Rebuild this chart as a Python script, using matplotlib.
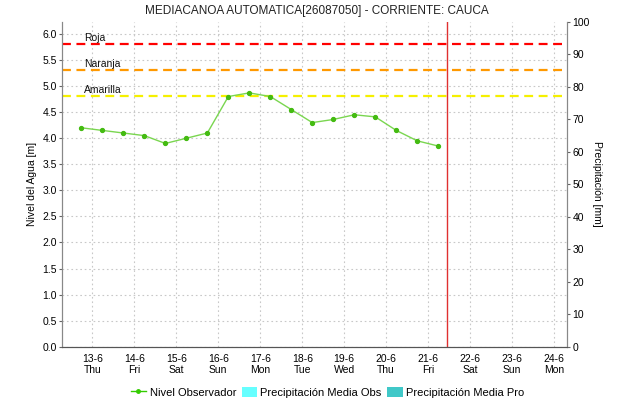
import numpy as np
import matplotlib
matplotlib.use("Agg")
import matplotlib.pyplot as plt
from matplotlib.lines import Line2D
from matplotlib.patches import Patch

plt.rcParams['font.family'] = ['Liberation Sans', 'DejaVu Sans']

# observed level, every 12 h starting 12-6 ~18h (x in day-of-month)
t_obs = 12.74 + 0.5 * np.arange(18)
nivel = [4.20, 4.15, 4.10, 4.05, 3.90, 4.00, 4.10, 4.80, 4.87,
         4.80, 4.55, 4.30, 4.36, 4.45, 4.41, 4.15, 3.95, 3.85]

# alert thresholds [m]
umbral_nombres = ['Roja', 'Naranja', 'Amarilla']
umbral_valores = [5.81, 5.31, 4.81]
umbral_colores = ['#ff0000', '#ff9900', '#f5f000']

dias = list(range(13, 25))
dias_sem = ['Thu', 'Fri', 'Sat', 'Sun', 'Mon', 'Tue', 'Wed',
            'Thu', 'Fri', 'Sat', 'Sun', 'Mon']
ahora = 21.46

fig = plt.figure(figsize=(6.18, 4.03), dpi=100)
ax = fig.add_axes([0.1008, 0.1397, 0.8162, 0.8057])
ax2 = ax.twinx()

ax.set_xlim(12.285, 24.30)
ax.set_ylim(0, 6.23)
ax2.set_ylim(0, 100)

ax.grid(True, color='#c8c8c8', linestyle=(0, (1.5, 2.5)), linewidth=0.8)
ax.set_axisbelow(True)

for nombre, v, c in zip(umbral_nombres, umbral_valores, umbral_colores):
    ax.axhline(v, color=c, linestyle=(0, (4, 2.5)), linewidth=1.6)
    ax.text(0.043, v + 0.02, nombre, transform=ax.get_yaxis_transform(),
            fontsize=7.5, color='#111111', va='bottom')

ax.axvline(ahora, color='#e03030', linewidth=1.0)

ax.plot(t_obs, nivel, color='#7ad650', linewidth=1.0, marker='o',
        markersize=2.8, markerfacecolor='#44bb11', markeredgecolor='#44bb11')

ax.set_xticks(dias)
ax.set_xticklabels([f'{d}-6\n{s}' for d, s in zip(dias, dias_sem)], fontsize=7.5)
ax.set_yticks(np.arange(0, 6.01, 0.5))
ax.set_yticklabels([f'{v:.1f}' for v in np.arange(0, 6.01, 0.5)], fontsize=7.5)
ax2.set_yticks(np.arange(0, 101, 10))
ax2.set_yticklabels([str(v) for v in range(0, 101, 10)], fontsize=7.5)

ax.tick_params(axis='x', length=0, pad=5)
ax.tick_params(axis='y', length=2, width=0.8, color='#666666', pad=2)
ax2.tick_params(axis='y', length=2, width=0.8, color='#666666', pad=2)

for a in (ax, ax2):
    a.spines['top'].set_visible(False)
    a.spines['left'].set_color('#888888')
    a.spines['right'].set_color('#888888')
    a.spines['bottom'].set_color('#555555')
    a.spines['bottom'].set_linestyle((0, (1, 1)))

ax.set_ylabel('Nivel del Agua [m]', fontsize=7.5, labelpad=4)
ax2.set_ylabel('Precipitación [mm]', fontsize=7.5, rotation=270, labelpad=9)

fig.suptitle('MEDIACANOA AUTOMATICA[26087050] - CORRIENTE: CAUCA',
             fontsize=8.5, x=0.512, y=0.988, va='top', color='#222222')

handles = [
    Line2D([0], [0], color='#33cc00', linewidth=1.0, marker='o',
           markersize=2.5),
    Patch(facecolor='#66ffff', edgecolor='none'),
    Patch(facecolor='#40c8c8', edgecolor='none'),
]
labels = ['Nivel Observador', 'Precipitación Media Obs', 'Precipitación Media Pro']
fig.legend(handles, labels, loc='center', bbox_to_anchor=(0.53, 0.027),
           ncol=3, frameon=False, fontsize=8, handlelength=1.4,
           handleheight=1.0, handletextpad=0.3, columnspacing=0.5)

fig.savefig('out.png', dpi=100)
